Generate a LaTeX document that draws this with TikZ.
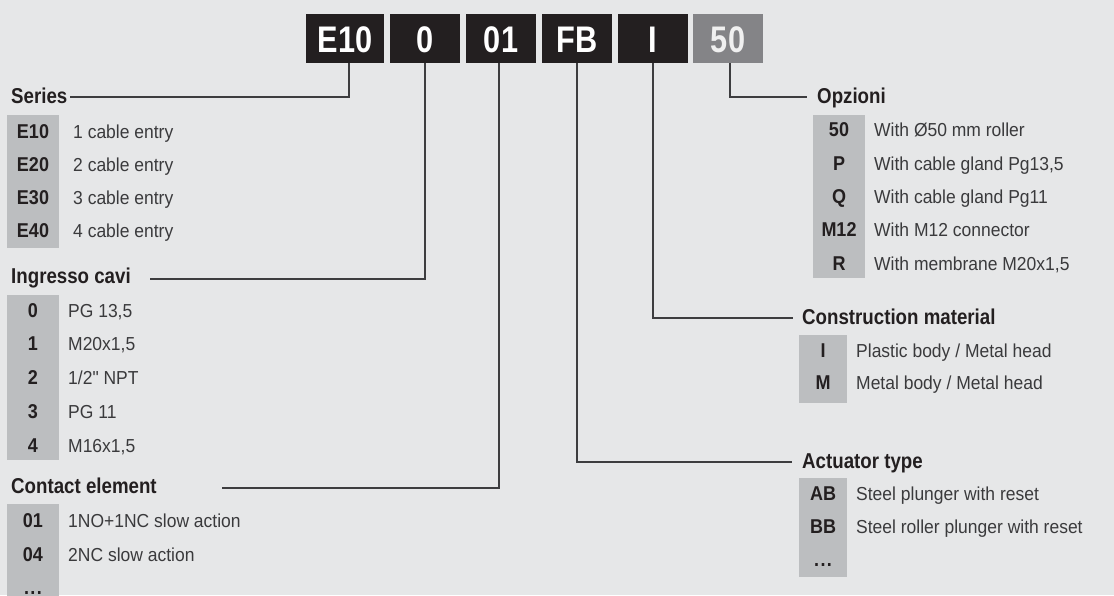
\documentclass[tikz,border=0pt]{standalone}
\usepackage{fontspec}
\setmainfont{Liberation Sans}[FakeStretch=0.93, Ligatures=TeXOff]
\newfontfamily\titlefam{Liberation Sans}[FakeStretch=0.87]
\newfontfamily\codefam{Liberation Sans}[FakeStretch=0.83]
\newfontfamily\labfam{Liberation Sans}[FakeStretch=0.9]
\definecolor{bg}{HTML}{E6E7E8}
\definecolor{boxblack}{HTML}{231F20}
\definecolor{boxgray}{HTML}{848487}
\definecolor{panel}{HTML}{BCBEC0}
\definecolor{ink}{HTML}{231F20}
\definecolor{desccol}{HTML}{3A3A3C}
\definecolor{linecol}{HTML}{3D3D3F}
\newcommand{\mydots}{.\kern1.3pt.\kern1.3pt.}
\begin{document}
\begin{tikzpicture}[x=1pt,y=-1pt,
  topbox/.style={fill=boxblack, text=white, minimum width=70pt, minimum height=49pt, inner sep=0pt,
    font=\codefam\bfseries\fontsize{37}{37}\selectfont, text height=27pt, text depth=0pt},
  titletext/.style={anchor=base west, inner sep=0pt, font=\titlefam\bfseries\fontsize{21.5}{22}\selectfont, text=ink},
  codetext/.style={anchor=base, inner sep=0pt, font=\labfam\bfseries\fontsize{20}{20}\selectfont, text=ink},
  desc/.style={anchor=base west, inner sep=0pt, font=\fontsize{18.8}{20}\selectfont, text=desccol},
  conn/.style={draw=linecol, line width=1.1pt},
  panelbox/.style={fill=panel}]
\fill[bg] (0,0) rectangle (1114,595);
\useasboundingbox (0,0) rectangle (1114,595);

% top code boxes
\node[topbox, minimum width=78pt] (e10) at (345,38.5) {E10};
\node[topbox] (b0)  at (425,38.5) {0};
\node[topbox] (b01) at (501,38.5) {01};
\node[topbox] (bfb) at (577,38.5) {FB};
\node[topbox] (bi)  at (653,38.5) {I};
\node[topbox, fill=boxgray, text=white!94!black] (b50) at (728,38.5) {50};

% panels
\fill[panelbox] (7,115) rectangle (59,248);
\fill[panelbox] (7,295) rectangle (59,460);
\fill[panelbox] (7,504) rectangle (59,596);
\fill[panelbox] (813,115) rectangle (865,278);
\fill[panelbox] (799,335) rectangle (847,403);
\fill[panelbox] (799,478) rectangle (847,577);

% Series
\node[titletext] (series) at (11,103.5) {Series};
\node[codetext] (s1c) at (33,138.5) {E10}; \node[desc] (s1d) at (73,138.5) {1 cable entry};
\node[codetext] (s2c) at (33,171.5) {E20}; \node[desc] (s2d) at (73,171.5) {2 cable entry};
\node[codetext] (s3c) at (33,204.5) {E30}; \node[desc] (s3d) at (73,204.5) {3 cable entry};
\node[codetext] (s4c) at (33,237.5) {E40}; \node[desc] (s4d) at (73,237.5) {4 cable entry};

% Ingresso cavi
\node[titletext] (ingresso) at (11,283.5) {Ingresso cavi};
\node[codetext] (i0c) at (33,317)   {0}; \node[desc] (i0d) at (68,317)   {PG 13,5};
\node[codetext] (i1c) at (33,350.7) {1}; \node[desc] (i1d) at (68,350.7) {M20x1,5};
\node[codetext] (i2c) at (33,384.5) {2}; \node[desc] (i2d) at (68,384.5) {1/2" NPT};
\node[codetext] (i3c) at (33,418.2) {3}; \node[desc] (i3d) at (68,418.2) {PG 11};
\node[codetext] (i4c) at (33,452)   {4}; \node[desc] (i4d) at (68,452)   {M16x1,5};

% Contact element
\node[titletext] (contact) at (11,493.5) {Contact element};
\node[codetext] (c1c) at (33,527.7) {01}; \node[desc] (c1d) at (68,527.7) {1NO+1NC slow action};
\node[codetext] (c2c) at (33,561)   {04}; \node[desc] (c2d) at (68,561)   {2NC slow action};
\node[codetext] (c3c) at (33,594.3) {\mydots};

% Opzioni
\node[titletext] (opzioni) at (817,103.5) {Opzioni};
\node[codetext] (o1c) at (839,136.7) {50};  \node[desc] (o1d) at (874,136.7) {With Ø50 mm roller};
\node[codetext] (o2c) at (839,170)   {P};   \node[desc] (o2d) at (874,170)   {With cable gland Pg13,5};
\node[codetext] (o3c) at (839,203.3) {Q};   \node[desc] (o3d) at (874,203.3) {With cable gland Pg11};
\node[codetext] (o4c) at (839,236.7) {M12}; \node[desc] (o4d) at (874,236.7) {With M12 connector};
\node[codetext] (o5c) at (839,270)   {R};   \node[desc] (o5d) at (874,270)   {With membrane M20x1,5};

% Construction material
\node[titletext] (constr) at (802,324) {Construction material};
\node[codetext] (m1c) at (823,357.5) {I}; \node[desc] (m1d) at (856,357.5) {Plastic body / Metal head};
\node[codetext] (m2c) at (823,389.5) {M}; \node[desc] (m2d) at (856,389.5) {Metal body / Metal head};

% Actuator type
\node[titletext] (actuator) at (802,468.3) {Actuator type};
\node[codetext] (a1c) at (823,500)   {AB}; \node[desc] (a1d) at (856,500)   {Steel plunger with reset};
\node[codetext] (a2c) at (823,533.4) {BB}; \node[desc] (a2d) at (856,533.4) {Steel roller plunger with reset};
\node[codetext] (a3c) at (823,566.7) {\mydots};

% connector ends
\coordinate (seriesEnd) at (70,97);
\coordinate (ingressoEnd) at (150,279);
\coordinate (contactEnd) at (222,488);
\coordinate (opzioniEnd) at (807,97);
\coordinate (constrEnd) at (793,318);
\coordinate (actuatorEnd) at (792,462);

\draw[conn] ([xshift=4pt]e10.south) |- (seriesEnd);
\draw[conn] (b0.south) |- (ingressoEnd);
\draw[conn] ([xshift=-2pt]b01.south) |- (contactEnd);
\draw[conn] (bfb.south) |- (actuatorEnd);
\draw[conn] (bi.south) |- (constrEnd);
\draw[conn] ([xshift=2pt]b50.south) |- (opzioniEnd);
\end{tikzpicture}
\end{document}
